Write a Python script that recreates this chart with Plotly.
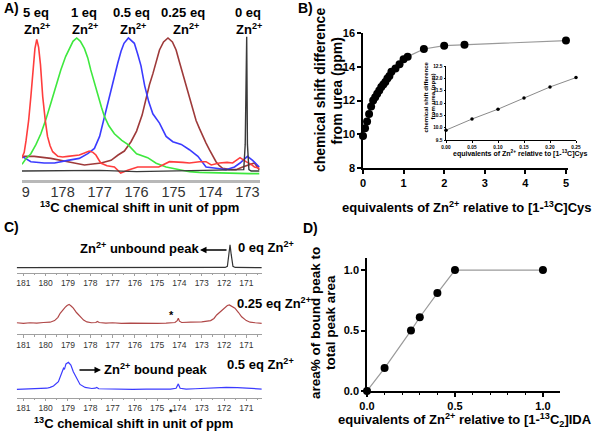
import plotly.graph_objects as go

W, H = 600, 435
FONT = "Liberation Sans, Arial, sans-serif"

def fx(p):
    return p / W

def fy(p):
    return 1 - p / H

# ---------------- Panel A : 13C spectra (ppm, relative intensity) ----------------
red_x = [179.10, 179.04, 178.99, 178.92, 178.86, 178.80, 178.75, 178.70, 178.65, 178.60, 178.54, 178.47,
         178.41, 178.34, 178.27, 178.13, 178.00, 177.86, 177.70, 177.55, 177.41, 177.28, 177.18, 177.10,
         176.97, 176.80, 176.60, 176.43, 176.24, 175.97, 175.70, 175.40, 175.11, 174.93, 174.75, 174.57,
         174.30, 174.12, 173.98, 173.76, 173.55, 173.40, 173.20, 173.04, 172.90, 172.81, 172.68]
red_y = [0.10, 0.14, 0.23, 0.38, 0.56, 0.78, 0.92, 0.99, 0.93, 0.80, 0.56, 0.38,
         0.26, 0.19, 0.145, 0.11, 0.105, 0.11, 0.115, 0.12, 0.135, 0.15, 0.14, 0.12,
         0.06, 0.04, 0.03, -0.015, 0.005, 0.03, 0.03, 0.03, 0.07, 0.07, 0.065, 0.06,
         0.07, 0.07, 0.045, 0.06, 0.065, 0.06, 0.10, 0.07, 0.05, 0.03, 0.02]

green_x = [179.10, 179.00, 178.86, 178.72, 178.59, 178.45, 178.32, 178.18, 178.05, 177.92, 177.82, 177.72,
           177.62, 177.52, 177.41, 177.32, 177.24, 177.14, 177.05, 176.95, 176.87, 176.75, 176.60, 176.40,
           176.24, 176.00, 175.70, 175.47, 175.20, 175.02, 174.80, 174.57, 174.30, 174.12, 173.80, 173.50,
           173.20, 172.95, 172.68]
green_y = [0.05, 0.09, 0.13, 0.20, 0.28, 0.39, 0.51, 0.64, 0.76, 0.86, 0.92, 0.975,
           1.0, 0.975, 0.92, 0.85, 0.76, 0.66, 0.56, 0.48, 0.41, 0.34, 0.28, 0.23,
           0.20, 0.13, 0.10, 0.058, 0.03, 0.02, 0.01, -0.005, -0.01, -0.012, -0.015, -0.017,
           -0.018, -0.02, -0.02]

blue_x = [179.10, 178.86, 178.50, 178.22, 177.86, 177.55, 177.32, 177.14, 177.00, 176.87, 176.78, 176.69,
          176.60, 176.51, 176.42, 176.34, 176.22, 176.06, 175.97, 175.88, 175.78, 175.67, 175.56, 175.38,
          175.20, 175.02, 174.79, 174.57, 174.34, 174.12, 173.85, 173.58, 173.35, 173.20, 173.00, 172.86,
          172.68]
blue_y = [0.11, 0.07, 0.06, 0.06, 0.08, 0.095, 0.13, 0.17, 0.26, 0.41, 0.51, 0.61,
          0.71, 0.81, 0.90, 0.96, 1.0, 0.96, 0.88, 0.79, 0.64, 0.52, 0.43, 0.36,
          0.26, 0.22, 0.20, 0.16, 0.11, 0.03, 0.02, 0.01, 0.03, 0.06, 0.11, 0.08,
          0.03]

brown_x = [179.10, 179.04, 178.77, 178.32, 177.86, 177.41, 176.96, 176.69, 176.50, 176.33, 176.15, 176.00,
           175.85, 175.74, 175.65, 175.56, 175.47, 175.38, 175.27, 175.15, 175.03, 174.93, 174.84, 174.75,
           174.66, 174.57, 174.48, 174.39, 174.30, 174.21, 174.12, 174.03, 173.94, 173.85, 173.76, 173.67,
           173.50, 173.31, 173.13, 172.95, 172.81, 172.68]
brown_y = [0.10, 0.11, 0.11, 0.095, 0.07, 0.045, 0.06, 0.08, 0.12, 0.15, 0.22, 0.30,
           0.42, 0.56, 0.65, 0.73, 0.82, 0.91, 0.97, 1.0, 0.97, 0.91, 0.82, 0.73,
           0.64, 0.56, 0.47, 0.38, 0.32, 0.26, 0.21, 0.16, 0.11, 0.07, 0.04, 0.02,
           0.012, 0.01, 0.03, 0.045, 0.06, 0.01]

black_x = [179.10, 178.00, 177.00, 176.00, 175.00, 174.00, 173.30, 173.10, 173.06, 173.04, 173.02, 173.00,
           172.96, 172.90, 172.68]
black_y = [0.0, 0.0, 0.005, -0.005, 0.0, 0.0, 0.005, 0.01, 0.2, 1.01, 1.01, 0.2,
           0.01, 0.0, 0.0]

a_ticks = [179, 178, 177, 176, 175, 174, 173]
a_ticktext = ["9", "178", "177", "176", "175", "174", "173"]

# ---------------- Panel B : titration curve ----------------
b_x = [0, 0.05, 0.1, 0.15, 0.2, 0.25, 0.3, 0.35, 0.4, 0.45, 0.5, 0.55, 0.6, 0.65, 0.7,
       0.8, 0.9, 1.0, 1.1, 1.5, 2.0, 2.5, 5.0]
b_y = [9.9, 10.35, 10.75, 11.2, 11.65, 12.0, 12.2, 12.4, 12.6, 12.8, 12.95, 13.1, 13.3, 13.45, 13.7,
       13.9, 14.15, 14.45, 14.6, 15.05, 15.25, 15.3, 15.55]
inset_x = [0.0, 0.05, 0.10, 0.15, 0.20, 0.25]
inset_y = [9.9, 10.35, 10.75, 11.2, 11.65, 12.03]

# ---------------- Panel C : stacked spectra ----------------
c0_x = [181.3, 180.0, 178.0, 176.0, 174.0, 172.5, 171.95, 171.85, 171.78, 171.73, 171.68, 171.60, 171.50, 170.3]
c0_y = [0, 0, 0, 0, 0, 0, 0.01, 0.05, 0.5, 0.85, 0.5, 0.05, 0.01, 0]

c25_x = [181.3, 181.0, 180.7, 180.4, 180.1, 179.8, 179.6, 179.45, 179.35, 179.25, 179.13, 179.04, 178.95,
         178.86, 178.76, 178.62, 178.46, 178.30, 178.15, 177.95, 177.75, 177.68, 177.6, 177.3, 177.0, 176.6,
         176.2, 175.8, 175.4, 175.0, 174.6, 174.2, 174.1, 174.05, 174.0, 173.9, 173.5, 173.0, 172.6, 172.45,
         172.33, 172.15, 171.96, 171.85, 171.76, 171.65, 171.51, 171.35, 171.21, 171.0, 170.83, 170.6, 170.3]
c25_y = [0.02, 0.0, 0.02, 0.01, 0.03, 0.04, 0.10, 0.22, 0.37, 0.48, 0.59, 0.66, 0.70,
         0.64, 0.56, 0.40, 0.24, 0.12, 0.05, 0.02, 0.03, 0.07, 0.03, 0.01, 0.02, 0.0,
         0.01, 0.0, 0.01, 0.0, 0.01, 0.03, 0.10, 0.19, 0.08, 0.03, 0.04, 0.05, 0.10, 0.18,
         0.31, 0.45, 0.61, 0.66, 0.68, 0.64, 0.56, 0.40, 0.24, 0.10, 0.04, 0.02, 0.0]

c50_x = [181.3, 180.8, 180.3, 179.95, 179.80, 179.65, 179.43, 179.35, 179.28, 179.20, 179.16, 179.09, 178.98,
         178.87, 178.76, 178.60, 178.46, 178.23, 177.93, 177.78, 177.71, 177.62, 177.2, 176.6, 176.1, 175.5,
         174.9, 174.4, 174.15, 174.05, 173.97, 173.7, 173.3, 172.8, 172.3, 171.9, 171.4, 171.0, 170.6, 170.3]
c50_y = [0.0, 0.01, 0.02, 0.04, 0.07, 0.12, 0.28, 0.45, 0.65, 0.78, 0.74, 0.94, 1.0,
         0.9, 0.65, 0.37, 0.18, 0.07, 0.03, 0.04, 0.07, 0.02, 0.01, 0.0, 0.0, 0.01,
         0.0, 0.01, 0.04, 0.20, 0.04, 0.01, 0.02, 0.04, 0.06, 0.07, 0.06, 0.04, 0.02, 0.01]

c_ticks = [181, 180, 179, 178, 177, 176, 175, 174, 173, 172, 171]

# ---------------- Panel D : bound fraction ----------------
d_x = [0.0, 0.1, 0.25, 0.3, 0.4, 0.5, 1.0]
d_y = [0.0, 0.19, 0.5, 0.61, 0.81, 1.0, 1.0]

fig = go.Figure()

# Panel A traces
for xs, ys, col, w in [(brown_x, brown_y, "#9e3a3a", 1.6), (blue_x, blue_y, "#3b3bff", 1.6),
                       (green_x, green_y, "#3ee83e", 1.6), (red_x, red_y, "#ff3d3d", 1.6),
                       (black_x, black_y, "#3a3a3a", 1.4)]:
    fig.add_trace(go.Scatter(x=xs, y=ys, mode="lines", line=dict(color=col, width=w),
                             xaxis="x", yaxis="y", showlegend=False, hoverinfo="skip"))

# Panel B traces
fig.add_trace(go.Scatter(x=b_x, y=b_y, mode="lines+markers", line=dict(color="#9a9a9a", width=1.2),
                         marker=dict(color="black", size=8), cliponaxis=False,
                         xaxis="x2", yaxis="y2", showlegend=False))
fig.add_trace(go.Scatter(x=inset_x, y=inset_y, mode="lines+markers", line=dict(color="#8a8a8a", width=1),
                         marker=dict(color="black", size=3.5), cliponaxis=False,
                         xaxis="x3", yaxis="y3", showlegend=False))

# Panel C traces
for xs, ys, col, xa, ya in [(c0_x, c0_y, "#333333", "x5", "y5"),
                            (c25_x, c25_y, "#b04848", "x6", "y6"),
                            (c50_x, c50_y, "#3b3bff", "x7", "y7")]:
    fig.add_trace(go.Scatter(x=xs, y=ys, mode="lines", line=dict(color=col, width=1.2),
                             xaxis=xa, yaxis=ya, showlegend=False, hoverinfo="skip"))

# Panel D traces
fig.add_trace(go.Scatter(x=d_x, y=d_y, mode="lines+markers", line=dict(color="#9a9a9a", width=1.2),
                         marker=dict(color="black", size=8), cliponaxis=False,
                         xaxis="x4", yaxis="y4", showlegend=False))


def c_yrange(axis_px, base_px, top_px, scale=27.0):
    lo = -(axis_px - base_px) / scale
    hi = (base_px - top_px) / scale
    return [lo, hi]


bold_tick = dict(family=FONT, size=11, color="black", weight="bold")
blk_axis = dict(showline=True, linecolor="black", linewidth=1.5, ticks="outside", ticklen=4,
                tickwidth=1.5, tickcolor="black", showgrid=False, zeroline=False, tickfont=bold_tick)

c_axis = dict(showline=True, linecolor="#a0a0a0", linewidth=1, ticks="outside", ticklen=2.5,
              tickcolor="#a0a0a0", tickvals=c_ticks, range=[181.3, 170.31],
              domain=[fx(16.7), fx(261.7)], showgrid=False, zeroline=False,
              minor=dict(ticks="outside", ticklen=1.5, tickcolor="#a0a0a0", dtick=0.5, tick0=0),
              tickfont=dict(family=FONT, size=8.5, color="#333"))

inset_tick = dict(family=FONT, size=4.8, color="black", weight="bold")

fig.update_layout(
    width=W, height=H, margin=dict(l=0, r=0, t=0, b=0, pad=0, autoexpand=False),
    paper_bgcolor="white", plot_bgcolor="rgba(0,0,0,0)",
    font=dict(family=FONT, color="black"),
    # A
    xaxis=dict(domain=[fx(22), fx(260)], range=[179.1, 172.66], anchor="y", showline=True,
               linecolor="#b8b8b8", linewidth=3, ticks="", tickvals=a_ticks, ticktext=a_ticktext,
               ticklabelstandoff=-3,
               tickfont=dict(family=FONT, size=14.5, color="#333"), showgrid=False, zeroline=False),
    yaxis=dict(domain=[fy(180), fy(30)], range=[-0.0677, 1.06], visible=False, anchor="x"),
    # B
    xaxis2=dict(domain=[fx(363), fx(568)], range=[0, 5.05], anchor="y2", tickvals=[0, 1, 2, 3, 4, 5], **blk_axis),
    yaxis2=dict(domain=[fy(168), fy(33)], range=[8, 16], anchor="x2", tickvals=[8, 10, 12, 14, 16], **blk_axis),
    # B inset
    xaxis3=dict(domain=[fx(446), fx(576)], range=[0, 0.25], anchor="y3", showline=True, linecolor="black",
                linewidth=1, ticks="outside", ticklen=2, tickcolor="black", tickvals=inset_x,
                tickformat=".2f", showgrid=False, zeroline=False, tickfont=inset_tick),
    yaxis3=dict(domain=[fy(140), fy(66)], range=[9.5, 12.5], anchor="x3", showline=True, linecolor="black",
                linewidth=1, ticks="outside", ticklen=1.5, tickcolor="black", dtick=0.5, tick0=9.5,
                tickformat=".1f", showgrid=False, zeroline=False, tickfont=inset_tick),
    # D
    xaxis4=dict(domain=[fx(367), fx(560)], range=[0, 1.097], anchor="y4", tick0=0, dtick=0.5, tickformat=".1f",
                minor=dict(ticks="outside", ticklen=2.5, tickcolor="black", tickwidth=1.2, dtick=0.1, tick0=0),
                **blk_axis),
    yaxis4=dict(domain=[fy(391), fy(258)], range=[0, 1.1], anchor="x4", tick0=0, dtick=0.5, tickformat=".1f",
                **blk_axis),
    # C
    xaxis5=dict(anchor="y5", **c_axis),
    yaxis5=dict(domain=[fy(272.5), fy(238)], range=c_yrange(272.5, 267.7, 238), visible=False, anchor="x5"),
    xaxis6=dict(anchor="y6", **c_axis),
    yaxis6=dict(domain=[fy(334.3), fy(296)], range=c_yrange(334.3, 323.3, 296), visible=False, anchor="x6"),
    xaxis7=dict(anchor="y7", **c_axis),
    yaxis7=dict(domain=[fy(397.7), fy(358)], range=c_yrange(397.7, 389.3, 358), visible=False, anchor="x7"),
)

ann = []


def txt(text, x, y, size=13, xanchor="center", angle=0, bold=True, color="black"):
    ann.append(dict(text=text, x=fx(x), y=fy(y), xref="paper", yref="paper", showarrow=False,
                    xanchor=xanchor, yanchor="middle", textangle=angle,
                    font=dict(family=FONT, size=size, color=color, weight="bold" if bold else "normal")))


def arrow(x_head, y_head, x_tail, y_tail):
    ann.append(dict(text="", x=fx(x_head), y=fy(y_head), xref="paper", yref="paper", showarrow=True,
                    ax=x_tail - x_head, ay=y_tail - y_head, axref="pixel", ayref="pixel",
                    arrowhead=2, arrowsize=1, arrowwidth=1.3, arrowcolor="black"))


# Panel letters
txt("A)", 2, 8, 14, "left")
txt("B)", 296, 8, 14, "left")
txt("C)", 2, 227, 14, "left")
txt("D)", 301, 228, 14, "left")

# Panel A labels
for lbl, x1, x2 in [("5 eq", 36, 37), ("1 eq", 84, 85), ("0.5 eq", 131, 133),
                    ("0.25 eq", 183, 185.5), ("0 eq", 247.5, 249)]:
    txt(lbl, x1, 12.5, 13)
    txt("Zn<sup>2+</sup>", x2, 28.5, 13)
txt("<sup>13</sup>C chemical shift in unit of ppm", 139, 207, 13)

# Panel B titles
txt("chemical shift difference", 320, 90, 14, angle=-90)
txt("from urea (ppm)", 336.5, 91, 14, angle=-90)
txt("equivalents of Zn<sup>2+</sup> relative to [1-<sup>13</sup>C]Cys", 466.5, 206.5, 13)
txt("chemical shift difference", 425.5, 97, 6, angle=-90)
txt("from urea (ppm)", 432.5, 97, 6, angle=-90)
txt("equivalents of Zn<sup>2+</sup> relative to [1-<sup>13</sup>C]Cys", 520, 153.5, 7)

# Panel C labels
txt("Zn<sup>2+</sup> unbound peak", 139, 248.5, 13)
arrow(200, 250, 228, 250)
txt("0 eq Zn<sup>2+</sup>", 265.5, 246.5, 13)
txt("*", 171.7, 315, 11)
txt("0.25 eq Zn<sup>2+</sup>", 235, 302.5, 13, "left")
arrow(101, 370, 78, 370)
txt("Zn<sup>2+</sup> bound peak", 156, 368.5, 13)
txt("0.5 eq Zn<sup>2+</sup>", 260, 363.5, 13)
txt("*", 170.7, 412, 9)
txt("<sup>13</sup>C chemical shift in unit of ppm", 133, 422.5, 13)

# Panel D titles
txt("area% of bound peak to", 315, 323, 13.5, angle=-90)
txt("total peak area", 330, 323, 13.5, angle=-90)
txt("equivalents of Zn<sup>2+</sup> relative to [1-<sup>13</sup>C<sub>2</sub>]IDA", 464.5, 420, 13)

fig.update_layout(annotations=ann)

fig.write_html("out.html", config={"displayModeBar": False},
               post_script="document.body.style.margin='0';")
